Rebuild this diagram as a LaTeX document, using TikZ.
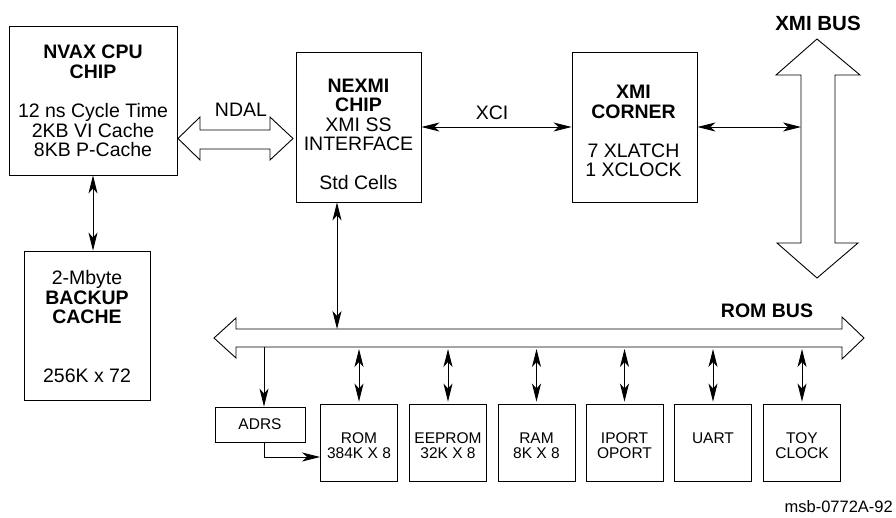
\documentclass[tikz,border=0pt]{standalone}
\usepackage{fontspec}
\setmainfont{Liberation Sans}
\usetikzlibrary{arrows.meta,calc}
\begin{document}
\begin{tikzpicture}[x=1pt,y=-1pt,
  box/.style={draw,line width=0.9pt,inner sep=0pt,rectangle},
  big/.style={font=\fontsize{19.5}{19.5}\selectfont,align=center,inner sep=0pt},
  small/.style={font=\fontsize{15.5}{15}\selectfont,align=center,inner sep=0pt},
  conn/.style={line width=0.9pt},
  darr/.style={conn,{Stealth[length=18pt,width=9pt,inset=5pt]}-{Stealth[length=18pt,width=9pt,inset=5pt]}},
  arr/.style={conn,-{Stealth[length=18pt,width=9pt,inset=5pt]}},
  bus/.style={draw,line width=0.9pt,fill=white,line join=miter}]
\useasboundingbox (0,0) rectangle (896,517);

% buses
\draw[bus] (178,138.5) -- (200,117) -- (200,130) -- (270,130) -- (270,117) -- (293,138.5) -- (270,160) -- (270,149) -- (200,149) -- (200,160) -- cycle;
\draw[bus] (817,39) -- (860,75) -- (835,75) -- (835,243) -- (858,243) -- (817,278) -- (777,243) -- (801,243) -- (801,75) -- (776,75) -- cycle;
\draw[bus] (214,338) -- (236,318) -- (236,329) -- (842,329) -- (842,317) -- (864,338) -- (842,359) -- (842,347) -- (236,347) -- (236,358) -- cycle;

\coordinate (xbl) at (801,127);
\coordinate (rbt) at (337,329);
\coordinate (rbb) at (264,347);
\coordinate (rbl) at (0,349);

% boxes
\node[box,minimum width=168pt,minimum height=149pt] (cpu) at (93,100.5) {};
\node[box,minimum width=125pt,minimum height=150pt] (nexmi) at (358.5,127) {};
\node[box,minimum width=125pt,minimum height=150pt] (xmic) at (634.5,127) {};
\node[box,minimum width=126pt,minimum height=149pt] (bc) at (87,325.5) {};
\node[box,minimum width=90pt,minimum height=35pt] (adrs) at (260,424.5) {};
\node[box,minimum width=77pt,minimum height=77pt] (rom) at (359,442.5) {};
\node[box,minimum width=77pt,minimum height=77pt] (eeprom) at (448,442.5) {};
\node[box,minimum width=77pt,minimum height=77pt] (ram) at (536.5,442.5) {};
\node[box,minimum width=77pt,minimum height=77pt] (iport) at (624.5,442.5) {};
\node[box,minimum width=77pt,minimum height=77pt] (uart) at (713,442.5) {};
\node[box,minimum width=77pt,minimum height=77pt] (toy) at (802,442.5) {};

% texts
\node[big] (cputxt) at (93,101) {\textbf{NVAX CPU}\\\textbf{CHIP}\\[20pt]12 ns Cycle Time\\2KB VI Cache\\8KB P-Cache};
\node[big] (nexmitxt) at (358.5,134.5) {\textbf{NEXMI}\\\textbf{CHIP}\\XMI SS\\INTERFACE\\[19.5pt]Std Cells};
\node[big] (xmictxt) at (633.5,131) {\textbf{XMI}\\\textbf{CORNER}\\[19.5pt]7 XLATCH\\1 XCLOCK};
\node[big] (bctxt) at (87,326.5) {2-Mbyte\\\textbf{BACKUP}\\\textbf{CACHE}\\[39pt]256K x 72};
\node[small] (adrstxt) at (adrs) {ADRS};
\node[small] (romtxt) at (359,445.5) {ROM\\384K X 8};
\node[small] (eepromtxt) at (448,445.5) {EEPROM\\32K X 8};
\node[small] (ramtxt) at (536.5,445.5) {RAM\\8K X 8};
\node[small] (iporttxt) at (624.5,445.5) {IPORT\\OPORT};
\node[small] (uarttxt) at (713,438) {UART};
\node[small] (toytxt) at (802,445.5) {TOY\\CLOCK};

\node[big] (ndal) at (241,110) {NDAL};
\node[big] (xci) at (492,113) {XCI};
\node[big,font=\fontsize{20.5}{20.5}\selectfont\bfseries] (xmibus) at (818,23) {XMI BUS};
\node[big,font=\fontsize{19.5}{19.5}\selectfont\bfseries] (rombus) at (767,311) {ROM BUS};
\node[inner sep=0pt,font=\fontsize{16.5}{16.5}\selectfont,anchor=east] (msb) at (893,507) {msb-0772A-92};

% connectors
\draw[darr] (cpu.south) -- (cpu.south |- bc.north);
\draw[darr] (nexmi.east) -- (xmic.west);
\draw[darr] (xmic.east) -- (xbl);
\draw[darr] (rbt |- nexmi.south) -- (rbt);
\draw[arr] (rbb) -- (rbb |- adrs.north);
\draw[arr] (rbb |- adrs.south) |- ([yshift=-14.5pt]rom.west);
\foreach \n in {rom,eeprom,ram,iport,uart,toy}
  \draw[darr] (\n.north |- rbl) -- ([yshift=2pt]\n.north);
\end{tikzpicture}
\end{document}
